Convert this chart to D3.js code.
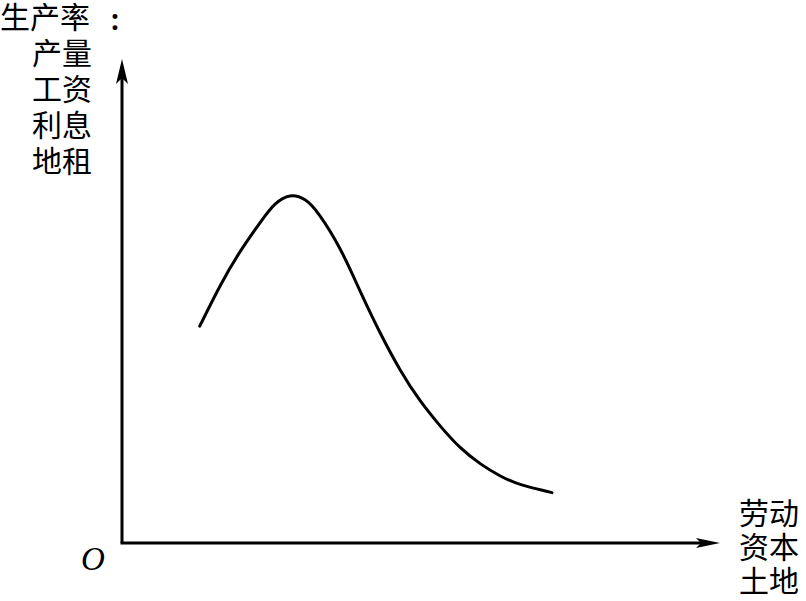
<!DOCTYPE html>
<html lang="zh">
<head>
<meta charset="UTF-8">
<title>生产率曲线</title>
<style>
  html, body { margin: 0; background: #fff; }
  .cjk { font-family: "Noto Sans CJK SC", sans-serif; font-size: 30px; fill: #000; }
</style>
</head>
<body>
<div class="chart"></div>
<script src="https://d3js.org/d3.v7.min.js"></script>
<script>
// curve (abstract units, 0..10 on both axes)
var curveX = [1.30, 1.64, 1.97, 2.31, 2.56, 2.81, 3.06, 3.31, 3.65, 3.98, 4.31, 4.65, 4.98, 5.32, 5.65, 5.99, 6.32, 6.66, 7.19];
var curveY = [4.48, 5.31, 6.01, 6.62, 7.00, 7.17, 7.09, 6.76, 6.07, 5.21, 4.36, 3.58, 2.95, 2.42, 1.98, 1.64, 1.39, 1.21, 1.04];

var yTitle = ["生产率", "产量", "工资", "利息", "地租"];
var xTitle = ["劳动", "资本", "土地"];
var originLabel = "O";

var W = 806, H = 601;
var svg = d3.select(".chart").append("svg")
    .attr("width", W).attr("height", H);

var x = d3.scaleLinear().domain([0, 10]).range([122, 720]);
var y = d3.scaleLinear().domain([0, 10]).range([543, 59]);

// axes with arrow heads
svg.append("line")
    .attr("x1", x(0)).attr("y1", y(0))
    .attr("x2", x(0)).attr("y2", y(10) + 10)
    .attr("stroke", "#000").attr("stroke-width", 3);
svg.append("line")
    .attr("x1", x(0) - 1.5).attr("y1", y(0))
    .attr("x2", x(10) - 10).attr("y2", y(0))
    .attr("stroke", "#000").attr("stroke-width", 3);

svg.append("path")
    .attr("d", `M${x(0)},${y(10)} L${x(0) - 6},${y(10) + 25} L${x(0)},${y(10) + 19} L${x(0) + 6},${y(10) + 25} Z`)
    .attr("fill", "#000");
svg.append("path")
    .attr("d", `M${x(10)},${y(0)} L${x(10) - 24},${y(0) - 5} L${x(10) - 19},${y(0)} L${x(10) - 24},${y(0) + 5} Z`)
    .attr("fill", "#000");

// curve
var pts = curveX.map((d, i) => [d, curveY[i]]);
var line = d3.line().x(d => x(d[0])).y(d => y(d[1])).curve(d3.curveNatural);
svg.append("path")
    .attr("d", line(pts))
    .attr("fill", "none")
    .attr("stroke", "#000")
    .attr("stroke-width", 3)
    .attr("stroke-linecap", "round");

// y title: first line flush left, others indented one character
svg.selectAll("text.ylab").data(yTitle).enter().append("text")
    .attr("class", "cjk ylab")
    .attr("x", (d, i) => i === 0 ? 0 : 32)
    .attr("y", (d, i) => 28 + i * 36)
    .text(d => d);

svg.append("text")
    .attr("x", 115).attr("y", 30)
    .attr("text-anchor", "middle")
    .attr("font-family", "Noto Sans, sans-serif")
    .attr("font-size", 28)
    .attr("font-weight", "bold")
    .text(":");

svg.selectAll("text.xlab").data(xTitle).enter().append("text")
    .attr("class", "cjk xlab")
    .attr("x", 739)
    .attr("y", (d, i) => 524 + i * 34)
    .text(d => d);

svg.append("text")
    .attr("x", 81).attr("y", 570)
    .attr("font-family", "Liberation Serif, serif")
    .attr("font-style", "italic")
    .attr("font-size", 33)
    .text(originLabel);
</script>
</body>
</html>
